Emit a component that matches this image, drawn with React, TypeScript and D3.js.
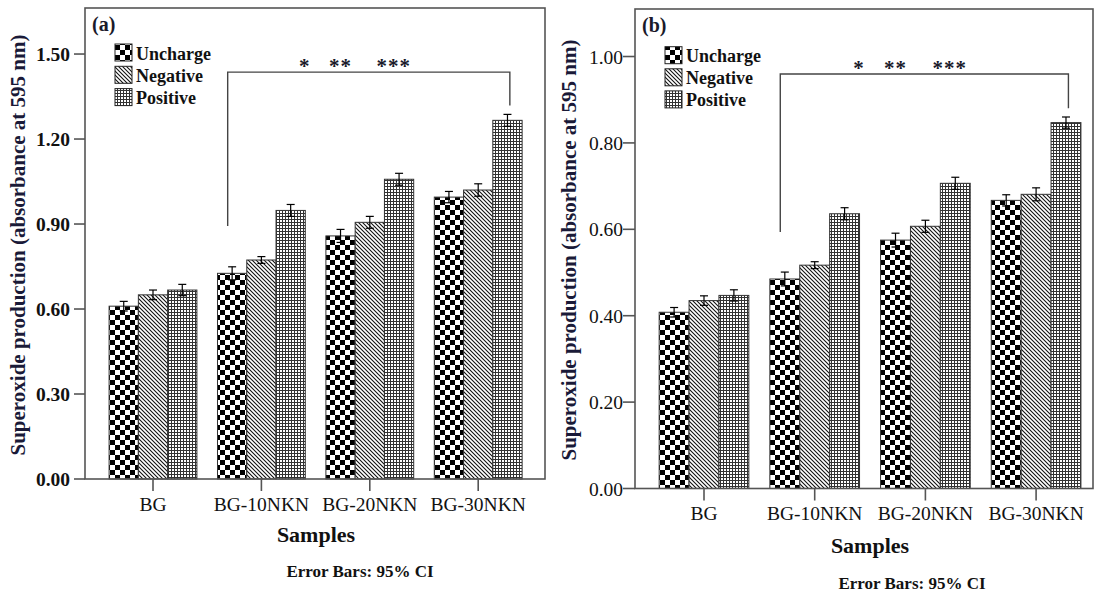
import React from "react";
import * as d3 from "d3";

// ---------- data ----------
const categories = ["BG", "BG-10NKN", "BG-20NKN", "BG-30NKN"];
const seriesNames = ["Uncharge", "Negative", "Positive"];

// panel (a)
const aUncharge = [0.61, 0.726, 0.858, 0.995];
const aNegative = [0.65, 0.773, 0.906, 1.02];
const aPositive = [0.667, 0.948, 1.058, 1.266];
const aUnchargeErr = [0.017, 0.023, 0.023, 0.02];
const aNegativeErr = [0.017, 0.012, 0.021, 0.022];
const aPositiveErr = [0.02, 0.021, 0.021, 0.021];
const aTicks = [0, 0.3, 0.6, 0.9, 1.2, 1.5];

// panel (b)
const bUncharge = [0.408, 0.485, 0.575, 0.667];
const bNegative = [0.435, 0.517, 0.607, 0.681];
const bPositive = [0.447, 0.636, 0.7065, 0.847];
const bUnchargeErr = [0.011, 0.016, 0.016, 0.013];
const bNegativeErr = [0.011, 0.008, 0.014, 0.015];
const bPositiveErr = [0.013, 0.014, 0.014, 0.013];
const bTicks = [0, 0.2, 0.4, 0.6, 0.8, 1.0];

// significance annotation (category-index units / data units)
const starLabels = ["*", "**", "***"];
const starIndex = [1.4, 1.73, 2.22];
const bracketIndex = [0.689, 3.292];
const aBracket = { top: 1.436, left: 0.893, right: 1.318 };
const bBracket = { top: 0.9595, left: 0.594, right: 0.88 };

const yTitle = "Superoxide production (absorbance at 595 nm)";
const xTitle = "Samples";
const note = "Error Bars: 95% CI";

const FONT = "'Liberation Serif', 'Times New Roman', serif";
const patternIds = ["pat-checker", "pat-diag", "pat-grid"];

type PanelCfg = {
  label: string;
  values: number[][];
  errors: number[][];
  ticks: number[];
  yMax: number;
  frame: { left: number; right: number; top: number; bottom: number };
  bandRange: [number, number];
  tickLabelRight: number;
  tickLabelWeight: string;
  tickStart: number;
  yTitleX: number;
  yTitleY: number;
  catLabelY: number;
  xTitlePos: [number, number];
  notePos: [number, number];
  legend: { x: number; y: number; step: number };
  bracket: { top: number; left: number; right: number };
  starY: number;
};

const panels: PanelCfg[] = [
  {
    label: "(a)",
    values: [aUncharge, aNegative, aPositive],
    errors: [aUnchargeErr, aNegativeErr, aPositiveErr],
    ticks: aTicks,
    yMax: 1.6625,
    frame: { left: 85, right: 545, top: 8, bottom: 479 },
    bandRange: [98.8, 532.4],
    tickLabelRight: 70,
    tickLabelWeight: "bold",
    tickStart: 74,
    yTitleX: 25,
    yTitleY: 245,
    catLabelY: 511,
    xTitlePos: [316, 542],
    notePos: [360, 577],
    legend: { x: 115, y: 44, step: 22.3 },
    bracket: aBracket,
    starY: 73,
  },
  {
    label: "(b)",
    values: [bUncharge, bNegative, bPositive],
    errors: [bUnchargeErr, bNegativeErr, bPositiveErr],
    ticks: bTicks,
    yMax: 1.11,
    frame: { left: 635, right: 1093, top: 9, bottom: 488.5 },
    bandRange: [648.65, 1091.45],
    tickLabelRight: 623,
    tickLabelWeight: "normal",
    tickStart: 623,
    yTitleX: 576,
    yTitleY: 250,
    catLabelY: 520,
    xTitlePos: [870, 553],
    notePos: [912, 589],
    legend: { x: 665, y: 46.7, step: 22.1 },
    bracket: bBracket,
    starY: 75,
  },
];

function Panel({ cfg }: { cfg: PanelCfg }) {
  const { frame } = cfg;
  const y = d3.scaleLinear().domain([0, cfg.yMax]).range([frame.bottom, frame.top]);
  const x0 = d3.scaleBand<string>().domain(categories).range(cfg.bandRange).paddingInner(0).paddingOuter(0);
  const step = x0.step();
  const groupW = step * 0.81;
  const x1 = d3.scaleBand<string>().domain(seriesNames).range([0, groupW]).padding(0);
  const bw = x1.bandwidth();
  const center = (c: string) => (x0(c) as number) + step / 2;
  const idxX = d3
    .scaleLinear()
    .domain([0, categories.length - 1])
    .range([center(categories[0]), center(categories[categories.length - 1])]);

  const axisColor = "#555";
  const textColor = "#111";

  return (
    <g>
      {/* bars */}
      {categories.map((c, ci) => {
        const gx = center(c) - groupW / 2;
        return (
          <g key={c}>
            {seriesNames.map((s, si) => {
              const v = cfg.values[si][ci];
              const e = cfg.errors[si][ci];
              const bx = gx + (x1(s) as number);
              const cx = bx + bw / 2;
              return (
                <g key={s}>
                  <rect
                    x={bx}
                    y={y(v)}
                    width={bw}
                    height={y(0) - y(v)}
                    fill={`url(#${patternIds[si]})`}
                    stroke="#333"
                    strokeWidth={1}
                  />
                  <line x1={cx} x2={cx} y1={y(v - e)} y2={y(v + e)} stroke="#000" strokeWidth={1.2} />
                  <line x1={cx - 4} x2={cx + 4} y1={y(v + e)} y2={y(v + e)} stroke="#000" strokeWidth={1.2} />
                  <line x1={cx - 4} x2={cx + 4} y1={y(v - e)} y2={y(v - e)} stroke="#000" strokeWidth={1.2} />
                </g>
              );
            })}
          </g>
        );
      })}

      {/* frame */}
      <rect
        x={frame.left}
        y={frame.top}
        width={frame.right - frame.left}
        height={frame.bottom - frame.top}
        fill="none"
        stroke={axisColor}
        strokeWidth={1.6}
      />

      {/* y ticks */}
      {cfg.ticks.map((t) => (
        <g key={t}>
          <line x1={cfg.tickStart} x2={frame.left} y1={y(t)} y2={y(t)} stroke={axisColor} strokeWidth={1.6} />
          <text
            x={cfg.tickLabelRight}
            y={y(t)}
            dy="0.36em"
            textAnchor="end"
            fontFamily={FONT}
            fontSize={19.5}
            fontWeight={cfg.tickLabelWeight}
            fill={textColor}
          >
            {d3.format(".2f")(t)}
          </text>
        </g>
      ))}

      {/* x ticks */}
      {categories.map((c) => (
        <g key={c}>
          <line x1={center(c)} x2={center(c)} y1={frame.bottom} y2={frame.bottom + 12} stroke={axisColor} strokeWidth={1.6} />
          <text x={center(c)} y={cfg.catLabelY} textAnchor="middle" fontFamily={FONT} fontSize={19.5} fill={textColor}>
            {c}
          </text>
        </g>
      ))}

      {/* titles */}
      <text
        transform={`translate(${cfg.yTitleX},${cfg.yTitleY}) rotate(-90)`}
        textAnchor="middle"
        fontFamily={FONT}
        fontSize={21}
        fontWeight="bold"
        fill="#1a1a38"
      >
        {yTitle}
      </text>
      <text x={cfg.xTitlePos[0]} y={cfg.xTitlePos[1]} textAnchor="middle" fontFamily={FONT} fontSize={22} fontWeight="bold" fill={textColor}>
        {xTitle}
      </text>
      <text x={cfg.notePos[0]} y={cfg.notePos[1]} textAnchor="middle" fontFamily={FONT} fontSize={17} fontWeight="bold" fill={textColor}>
        {note}
      </text>
      <text x={frame.left + 7} y={frame.top + 23} fontFamily={FONT} fontSize={20} fontWeight="bold" fill="#1a1a2a">
        {cfg.label}
      </text>

      {/* legend */}
      {seriesNames.map((s, si) => (
        <g key={s}>
          <rect
            x={cfg.legend.x}
            y={cfg.legend.y + si * cfg.legend.step}
            width={17}
            height={17}
            fill={`url(#${patternIds[si]})`}
            stroke="#222"
            strokeWidth={1}
          />
          <text
            x={cfg.legend.x + 21}
            y={cfg.legend.y + si * cfg.legend.step + 15.5}
            fontFamily={FONT}
            fontSize={18}
            fontWeight="bold"
            fill={textColor}
          >
            {s}
          </text>
        </g>
      ))}

      {/* bracket */}
      <path
        d={`M${idxX(bracketIndex[0])},${y(cfg.bracket.left)} V${y(cfg.bracket.top)} H${idxX(bracketIndex[1])} V${y(cfg.bracket.right)}`}
        fill="none"
        stroke="#444"
        strokeWidth={1.4}
      />
      {starLabels.map((s, i) => (
        <text
          key={i}
          x={idxX(starIndex[i])}
          y={cfg.starY}
          textAnchor="middle"
          fontFamily={FONT}
          fontSize={21}
          fontWeight="bold"
          letterSpacing={1}
          fill="#1a1a2a"
        >
          {s}
        </text>
      ))}
    </g>
  );
}

export default function App() {
  return (
    <svg
      width={1095}
      height={592}
      viewBox="0 0 1095 592"
      style={{ position: "absolute", left: 0, top: 0, background: "#fff", display: "block" }}
    >
      <defs>
        <pattern id="pat-checker" patternUnits="userSpaceOnUse" width={10} height={10}>
          <rect width={10} height={10} fill="#fff" />
          <rect x={0} y={0} width={5} height={5} fill="#000" />
          <rect x={5} y={5} width={5} height={5} fill="#000" />
        </pattern>
        <pattern id="pat-diag" patternUnits="userSpaceOnUse" width={4} height={4}>
          <rect width={4} height={4} fill="#fff" />
          <path d="M0,0 L4,4 M-1,3 L1,5 M3,-1 L5,1" stroke="#111" strokeWidth={1.1} />
        </pattern>
        <pattern id="pat-grid" patternUnits="userSpaceOnUse" width={3} height={3}>
          <rect width={3} height={3} fill="#fff" />
          <rect x={0} y={0} width={3} height={1} fill="#333" />
          <rect x={0} y={0} width={1} height={3} fill="#333" />
        </pattern>
      </defs>
      <rect width={1095} height={592} fill="#fff" />
      {panels.map((p) => (
        <Panel key={p.label} cfg={p} />
      ))}
    </svg>
  );
}
